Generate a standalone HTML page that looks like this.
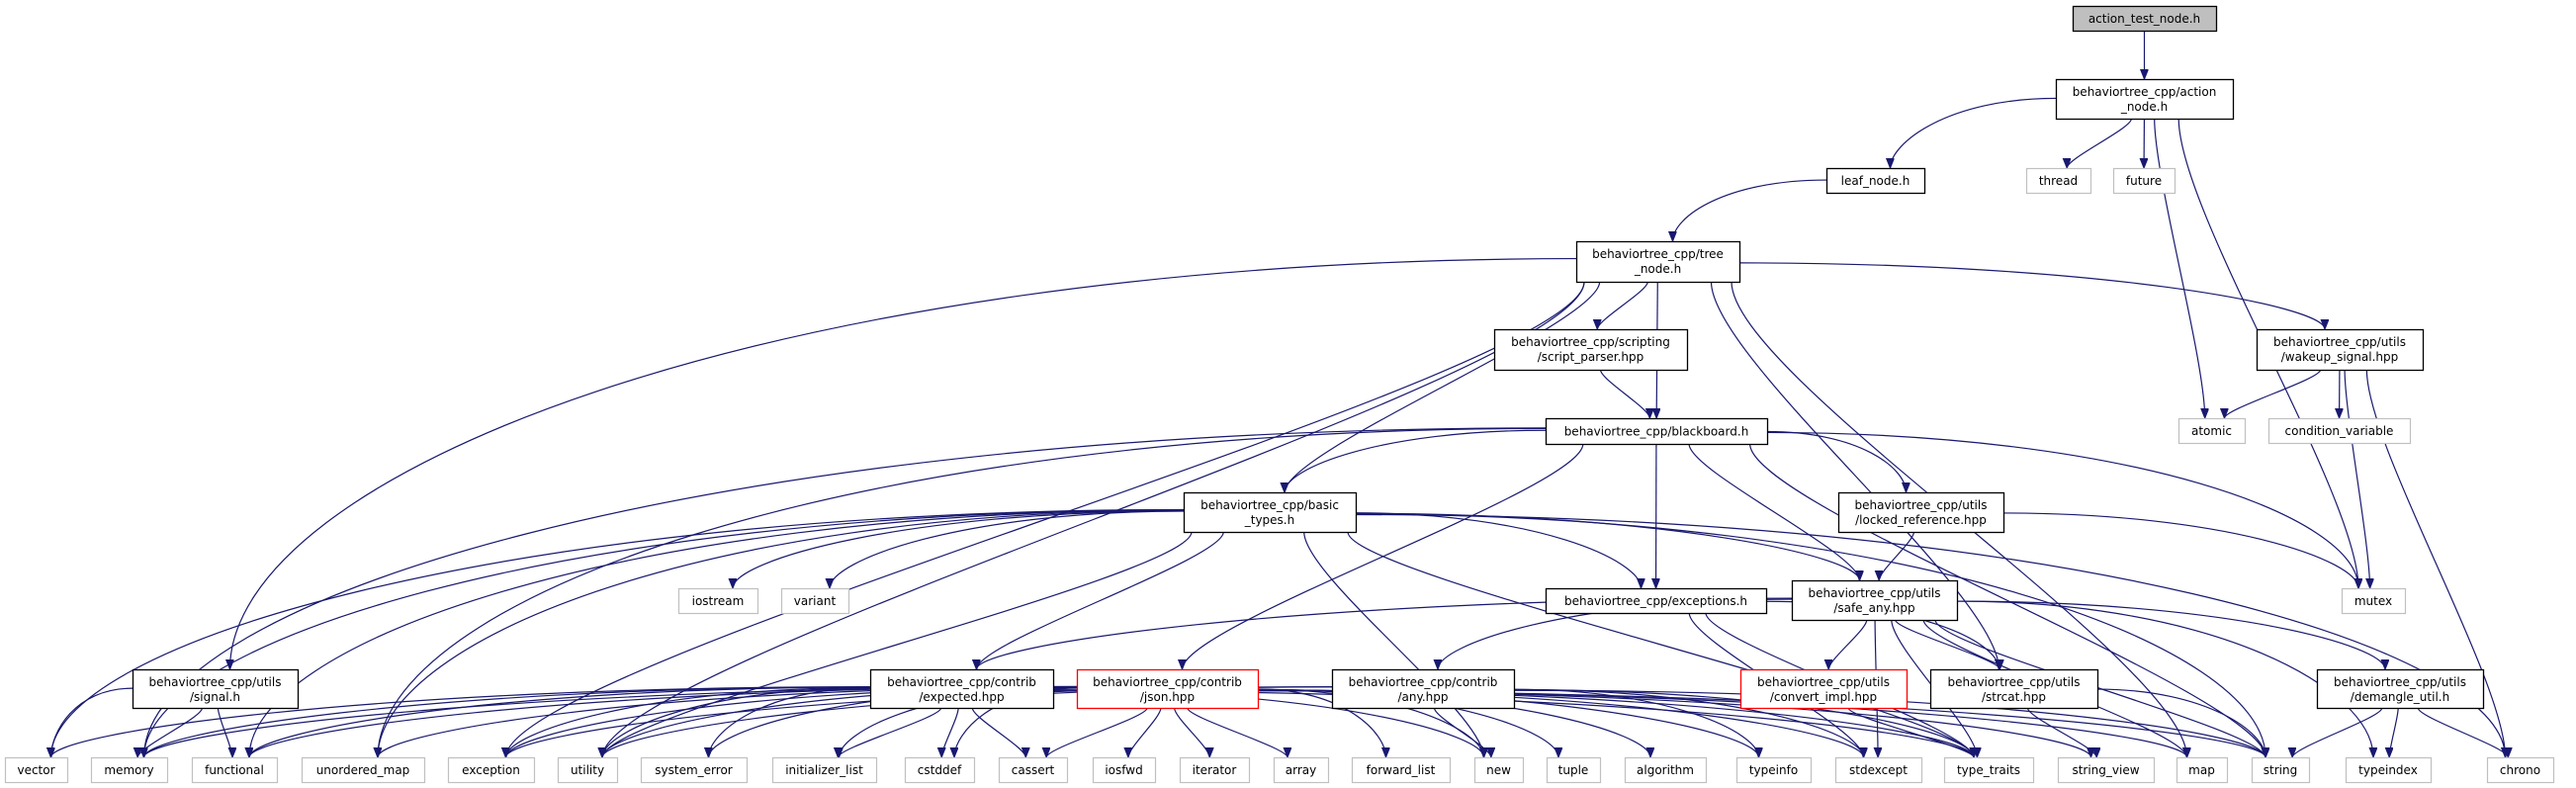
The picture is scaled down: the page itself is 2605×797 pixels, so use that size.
<!DOCTYPE html>
<html><head><meta charset="utf-8"><style>
html,body{margin:0;padding:0;background:#fff;}
svg{display:block;}
text{font-family:"DejaVu Sans","Liberation Sans",sans-serif;font-size:12px;fill:#000;}
</style></head><body>
<svg id="g" width="2605" height="797" viewBox="0 0 2605 797" xmlns="http://www.w3.org/2000/svg">
<defs><marker id="ah" markerUnits="userSpaceOnUse" markerWidth="12" markerHeight="10" refX="10" refY="4" orient="auto"><path d="M0,0 L10,4 L0,8 z" fill="#191970" stroke="#191970"/></marker></defs>
<g id="edges" fill="none" stroke="#191970" stroke-width="1.2"></g>
<g id="nodes"></g>
</svg>
<script>
var N={
A:[2096,2241,6,31,"action_test_node.h","",'s'],
AN:[2079,2258,80,120,"behaviortree_cpp/action","_node.h",'b'],
LN:[1847,1946,170,195,"leaf_node.h","",'b'],
TH:[2049,2114,170,195,"thread","",'g'],
FU:[2137,2199,170,195,"future","",'g'],
TN:[1594,1759,244,285,"behaviortree_cpp/tree","_node.h",'b'],
SP:[1511,1706,333,374,"behaviortree_cpp/scripting","/script_parser.hpp",'b'],
WS:[2282,2450,333,374,"behaviortree_cpp/utils","/wakeup_signal.hpp",'b'],
BB:[1563,1787,423,449,"behaviortree_cpp/blackboard.h","",'b'],
AT:[2203,2270,423,448,"atomic","",'g'],
CV:[2294,2437,423,448,"condition_variable","",'g'],
BT:[1197,1371,498,538,"behaviortree_cpp/basic","_types.h",'b'],
LR:[1859,2026,498,538,"behaviortree_cpp/utils","/locked_reference.hpp",'b'],
IO:[686,766,595,620,"iostream","",'g'],
VA:[790,858,595,620,"variant","",'g'],
EX:[1563,1786,595,620,"behaviortree_cpp/exceptions.h","",'b'],
SA:[1812,1979,587,627,"behaviortree_cpp/utils","/safe_any.hpp",'b'],
MU:[2368,2432,595,620,"mutex","",'g'],
SG:[134,301,677,716,"behaviortree_cpp/utils","/signal.h",'b'],
EP:[880,1065,677,716,"behaviortree_cpp/contrib","/expected.hpp",'b'],
JS:[1089,1272,677,716,"behaviortree_cpp/contrib","/json.hpp",'r'],
AY:[1347,1531,677,716,"behaviortree_cpp/contrib","/any.hpp",'b'],
CI:[1760,1928,677,716,"behaviortree_cpp/utils","/convert_impl.hpp",'r'],
SC:[1952,2121,677,716,"behaviortree_cpp/utils","/strcat.hpp",'b'],
DU:[2343,2511,677,716,"behaviortree_cpp/utils","/demangle_util.h",'b']
};
var bot=[["vector",5,68],["memory",92,169],["functional",194,280],["unordered_map",305,429],["exception",453,540],["utility",564,624],["system_error",648,755],["initializer_list",781,886],["cstddef",915,985],["cassert",1010,1079],["iosfwd",1105,1168],["iterator",1193,1263],["array",1288,1343],["forward_list",1367,1466],["new",1491,1540],["tuple",1564,1618],["algorithm",1643,1725],["typeinfo",1756,1831],["stdexcept",1856,1943],["type_traits",1966,2056],["string_view",2081,2178],["map",2201,2252],["string",2277,2335],["typeindex",2372,2458],["chrono",2515,2582]];
bot.forEach(function(b){N[b[0]]=[b[1],b[2],766,791,b[0],"",'g'];});
var E={
A:["AN"],AN:["LN","TH","FU","AT","MU"],LN:["TN"],
TN:["SG","exception","utility","SP","BB","BT","WS","SC","map"],
SP:["BB"],WS:["AT","CV","MU","chrono"],
BB:["BT","EX","SA","LR","MU","string","JS","memory","unordered_map"],
BT:["IO","VA","vector","memory","functional","unordered_map","utility","EP","EX","SA","chrono","type_traits","new","string"],
LR:["SA","MU"],EX:["SC","stdexcept","type_traits"],
SA:["CI","SC","DU","AY","EP","string","typeindex","type_traits","stdexcept","map"],
SG:["vector","memory","functional"],
EP:["vector","memory","functional","exception","utility","system_error","initializer_list","cstddef","cassert","new","type_traits"],
JS:["memory","functional","unordered_map","exception","utility","initializer_list","cstddef","cassert","iosfwd","iterator","array","forward_list","new","tuple","algorithm","map","string","string_view","type_traits","stdexcept","typeinfo","system_error"],
AY:["new","typeinfo","stdexcept","type_traits","utility","exception","string"],
CI:["type_traits"],SC:["string_view","string"],DU:["string","typeindex","chrono"]
};
var ns="http://www.w3.org/2000/svg",eg=document.getElementById("edges"),ng=document.getElementById("nodes");
function el(t,a,p){var e=document.createElementNS(ns,t);for(var k in a)e.setAttribute(k,a[k]);p.appendChild(e);return e;}
Object.keys(E).forEach(function(s){E[s].forEach(function(t){
 var a=N[s],b=N[t];var scx=(a[0]+a[1])/2,tcx=(b[0]+b[1])/2;
 var sy=a[3],ty=b[2];var dy=ty-sy;var sx;
 var tx=tcx+Math.max(-15,Math.min(15,(scx-tcx)*0.1));
 var d;
 if(Math.abs(tcx-scx)>3.5*dy&&dy<400){
  var side=tcx<scx?a[0]:a[1];var my=(a[2]+a[3])/2+Math.max(-8,Math.min(8,(tcx-scx)*0.002));
  d="M"+side+","+my+" C"+(side+(tcx-side)*0.6)+","+my+" "+tx+","+(ty-dy*0.5)+" "+tx+","+ty;
 } else {
  sx=scx+(tcx-scx)*0.15;sx=Math.max(a[0]+8,Math.min(a[1]-8,sx));
  d="M"+sx+","+sy+" C"+sx+","+(sy+dy*0.2)+" "+tx+","+(ty-dy*0.2)+" "+tx+","+ty;
 }
 el("path",{d:d,"marker-end":"url(#ah)"},eg);
});});
Object.keys(N).forEach(function(k){var n=N[k];var st=n[6];
 var fill=st=='s'?"#bfbfbf":"#fff",stroke=st=='g'?"#c0c0c0":(st=='r'?"#ff0000":"#000");
 el("rect",{x:n[0]+0.5,y:n[2]+0.5,width:n[1]-n[0],height:n[3]-n[2],fill:fill,stroke:stroke,"stroke-width":st=='g'?1.2:1.3},ng);
 var cx=(n[0]+n[1])/2;
 if(n[5]){var t1=el("text",{x:cx,y:n[2]+17,"text-anchor":"middle"},ng);t1.textContent=n[4];
  var t2=el("text",{x:cx,y:n[2]+32,"text-anchor":"middle"},ng);t2.textContent=n[5];}
 else{var t=el("text",{x:cx,y:(n[2]+n[3])/2+4.5,"text-anchor":"middle"},ng);t.textContent=n[4];}
});
</script>
</body></html>
